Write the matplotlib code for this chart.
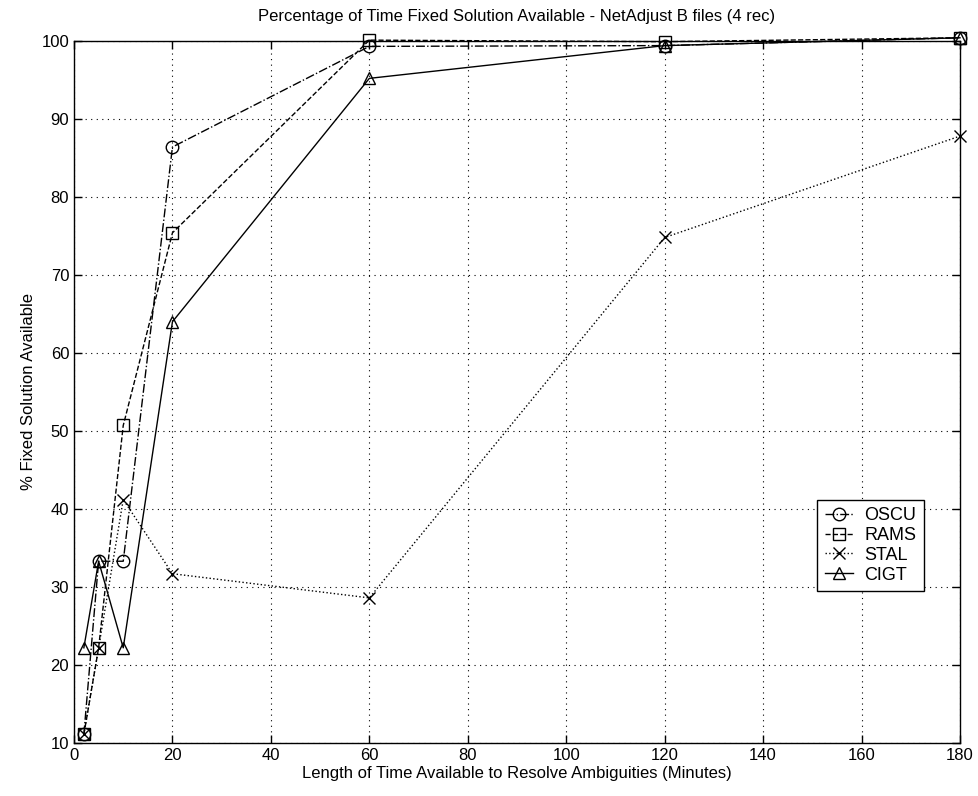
import matplotlib
matplotlib.use('Agg')
import matplotlib.pyplot as plt

minutes = [2, 5, 10, 20, 60, 120, 180]
oscu = [11.1, 33.3, 33.3, 86.4, 99.3, 99.4, 100.4]
rams = [11.1, 22.2, 50.7, 75.4, 100.1, 99.9, 100.4]
stal = [11.1, 22.2, 41.2, 31.7, 28.6, 74.8, 87.8]
cigt = [22.2, 33.3, 22.2, 64.0, 95.2, 99.4, 100.4]

plt.rcParams['font.family'] = ['Liberation Sans', 'DejaVu Sans']
plt.rcParams['font.size'] = 11

fig = plt.figure(figsize=(9.79, 7.96), dpi=100)
ax = fig.add_axes([0.0756, 0.0666, 0.905, 0.882])

style = dict(color='black', linewidth=1.0, markersize=9,
             markerfacecolor='none', markeredgecolor='black',
             markeredgewidth=1.0, clip_on=False)
ax.plot(minutes, oscu, linestyle='-.', marker='o', label='OSCU', **style)
ax.plot(minutes, rams, linestyle='--', marker='s', label='RAMS',
        **dict(style, markersize=8))
ax.plot(minutes, stal, linestyle=':', marker='x', label='STAL',
        **dict(style, markersize=8))
ax.plot(minutes, cigt, linestyle='-', marker='^', label='CIGT', **style)

ax.set_xlim(0, 180)
ax.set_ylim(10, 100)
ax.set_xticks(range(0, 181, 20))
ax.set_yticks(range(10, 101, 10))
ax.grid(True, color='black', linestyle=(0, (1, 4)), linewidth=0.8)
ax.tick_params(direction='in', top=True, right=True, length=6, width=1,
               labelsize=12)
for spine in ax.spines.values():
    spine.set_linewidth(1.0)

ax.set_title('Percentage of Time Fixed Solution Available - NetAdjust B files (4 rec)',
             fontsize=12, pad=14)
ax.set_xlabel('Length of Time Available to Resolve Ambiguities (Minutes)',
              fontsize=12, labelpad=2)
ax.set_ylabel('% Fixed Solution Available', fontsize=12, labelpad=4)

leg = ax.legend(loc='lower right', bbox_to_anchor=(0.969, 0.204),
                fontsize=13, handlelength=1.6, handletextpad=0.6,
                borderpad=0.4, labelspacing=0.15, fancybox=False,
                framealpha=1, edgecolor='black')
leg.get_frame().set_linewidth(1.0)

fig.savefig('out.png', dpi=100)
